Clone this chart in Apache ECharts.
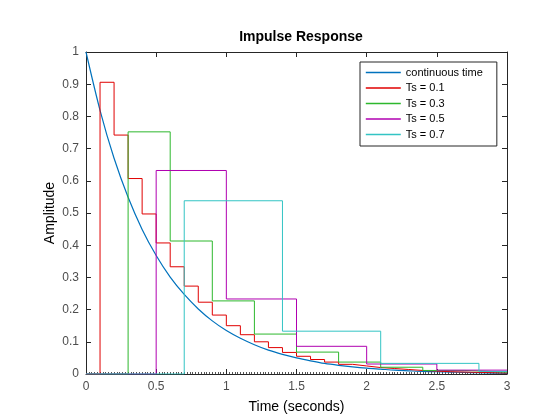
<!DOCTYPE html>
<html>
<head>
<meta charset="utf-8">
<script src="https://cdn.jsdelivr.net/npm/echarts@6/dist/echarts.min.js"></script>
<style>html,body{margin:0;padding:0;background:#fff}#c{width:560px;height:420px}</style>
</head>
<body>
<div id="c"></div>
<script>
// Continuous-time response, read every 0.1 s
var contTimes = [0,0.1,0.2,0.3,0.4,0.5,0.6,0.7,0.8,0.9,1.0,1.1,1.2,1.3,1.4,1.5,1.6,1.7,1.8,1.9,2.0,2.1,2.2,2.3,2.4,2.5,2.6,2.7,2.8,2.9,3.0];
var contValues = [1,0.819,0.670,0.549,0.449,0.368,0.301,0.247,0.202,0.165,0.135,0.111,0.091,0.074,0.061,0.050,0.041,0.033,0.027,0.022,0.018,0.015,0.012,0.010,0.008,0.007,0.006,0.005,0.004,0.003,0.002];

// Ts = 0.1 staircase
var ts01Times = [0,0.1,0.2,0.3,0.4,0.5,0.6,0.7,0.8,0.9,1.0,1.1,1.2,1.3,1.4,1.5,1.6,1.7,1.8,1.9,2.0,2.1,2.2,2.3,2.4,2.5,2.6,2.7,2.8,2.9,3.0];
var ts01Values = [0,0.906,0.742,0.607,0.497,0.407,0.333,0.273,0.223,0.183,0.150,0.122,0.100,0.082,0.067,0.055,0.045,0.037,0.030,0.025,0.020,0.017,0.014,0.011,0.009,0.007,0.006,0.005,0.004,0.003,0.003];

// Ts = 0.3 staircase
var ts03Times = [0,0.3,0.6,0.9,1.2,1.5,1.8,2.1,2.4,2.7,3.0];
var ts03Values = [0,0.752,0.413,0.227,0.124,0.068,0.037,0.021,0.011,0.006,0.006];

// Ts = 0.5 staircase
var ts05Times = [0,0.5,1.0,1.5,2.0,2.5,3.0];
var ts05Values = [0,0.632,0.233,0.086,0.031,0.012,0.012];

// Ts = 0.7 staircase
var ts07Times = [0,0.7,1.4,2.1,2.8,3.0];
var ts07Values = [0,0.538,0.133,0.033,0.008,0.008];

var seriesNames = ['continuous time','Ts = 0.1','Ts = 0.3','Ts = 0.5','Ts = 0.7'];
var xTicks = ['0','0.5','1','1.5','2','2.5','3'];
var yTicks = ['0','0.1','0.2','0.3','0.4','0.5','0.6','0.7','0.8','0.9','1'];

function zip(t, v){ return t.map(function(x,i){ return [x, v[i]]; }); }

var font = '"Liberation Sans", Arial, Helvetica, sans-serif';
var axisCol = '#262626';
var labelCol = '#4d4d4d';

var chart = echarts.init(document.getElementById('c'), null, {renderer:'canvas'});
chart.setOption({
  backgroundColor: '#ffffff',
  animation: false,
  title: {
    text: 'Impulse Response',
    left: 296, top: 25, textAlign: 'center',
    textStyle: {fontFamily: font, fontSize: 14, fontWeight: 'bold', color: '#000'}
  },
  grid: {left: 86, right: 53, top: 52, bottom: 46, containLabel: false},
  legend: {
    orient: 'vertical', left: 360, top: 62,
    padding: [5, 14, 6, 5],
    itemWidth: 35, itemHeight: 12, itemGap: 4.5,
    backgroundColor: '#fff', borderColor: axisCol, borderWidth: 1, borderRadius: 0,
    itemStyle: {opacity: 0},
    lineStyle: {width: 1.6},
    textStyle: {fontFamily: font, fontSize: 11, color: '#000', padding: [0,0,0,0]},
    data: seriesNames
  },
  xAxis: [{
    type: 'value', min: 0, max: 3, interval: 0.5, position: 'bottom',
    name: 'Time (seconds)', nameLocation: 'middle', nameGap: 26,
    nameTextStyle: {fontFamily: font, fontSize: 14, color: '#000'},
    axisLine: {show: true, onZero: false, lineStyle: {color: axisCol, width: 1}},
    axisTick: {show: true, inside: true, length: 5, lineStyle: {color: axisCol}},
    minorTick: {show: true, splitNumber: 25, length: 2, lineStyle: {color: '#555'}},
    axisLabel: {fontFamily: font, fontSize: 12, color: labelCol, margin: 7,
      formatter: function(v){ var i = Math.round(v/0.5); return xTicks[i]; }},
    splitLine: {show: false}
  },{
    type: 'value', min: 0, max: 3, interval: 0.5, position: 'top',
    axisLine: {show: true, onZero: false, lineStyle: {color: axisCol, width: 1}},
    axisTick: {show: true, inside: true, length: 5, lineStyle: {color: axisCol}},
    axisLabel: {show: false}, splitLine: {show: false}
  }],
  yAxis: [{
    type: 'value', min: 0, max: 1, interval: 0.1, position: 'left',
    name: 'Amplitude', nameLocation: 'middle', nameGap: 29, nameMoveOverlap: false,
    nameTextStyle: {fontFamily: font, fontSize: 14, color: '#000'},
    axisLine: {show: true, onZero: false, lineStyle: {color: axisCol, width: 1}},
    axisTick: {show: true, inside: true, length: 5, lineStyle: {color: axisCol}},
    axisLabel: {fontFamily: font, fontSize: 12, color: labelCol, margin: 7,
      formatter: function(v){ var i = Math.round(v/0.1); return yTicks[i]; }},
    splitLine: {show: false}
  },{
    type: 'value', min: 0, max: 1, interval: 0.1, position: 'right',
    axisLine: {show: true, onZero: false, lineStyle: {color: axisCol, width: 1}},
    axisTick: {show: true, inside: true, length: 5, lineStyle: {color: axisCol}},
    axisLabel: {show: false}, splitLine: {show: false}
  }],
  series: [
    {name: seriesNames[0], type: 'line', data: zip(contTimes, contValues), smooth: 0.3, symbol: 'none',
     lineStyle: {color: '#0072BD', width: 1.2}, itemStyle: {color: '#0072BD'}},
    {name: seriesNames[1], type: 'line', step: 'end', data: zip(ts01Times, ts01Values), symbol: 'none',
     lineStyle: {color: '#E00000', width: 1}, itemStyle: {color: '#E00000'}},
    {name: seriesNames[2], type: 'line', step: 'end', data: zip(ts03Times, ts03Values), symbol: 'none',
     lineStyle: {color: '#2DB82D', width: 1}, itemStyle: {color: '#2DB82D'}},
    {name: seriesNames[3], type: 'line', step: 'end', data: zip(ts05Times, ts05Values), symbol: 'none',
     lineStyle: {color: '#B000B0', width: 1}, itemStyle: {color: '#B000B0'}},
    {name: seriesNames[4], type: 'line', step: 'end', data: zip(ts07Times, ts07Values), symbol: 'none',
     lineStyle: {color: '#33C4C4', width: 1}, itemStyle: {color: '#33C4C4'}}
  ]
});
</script>
</body>
</html>
